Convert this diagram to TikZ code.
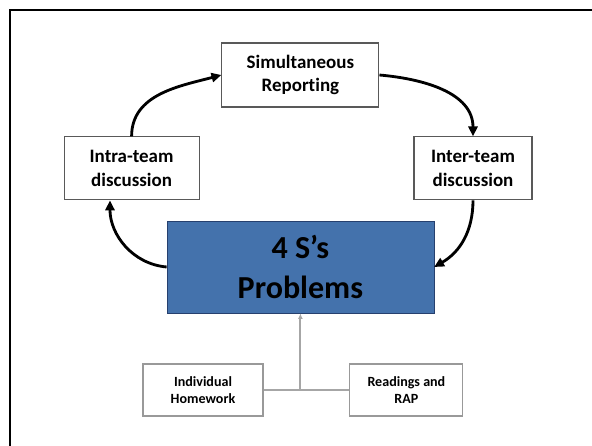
\documentclass[tikz,border=0pt]{standalone}
\usepackage{fontspec}
\setmainfont{Carlito}[Ligatures=NoCommon]
\usetikzlibrary{shapes,arrows,arrows.meta}

\definecolor{probblue}{RGB}{68,114,172}
\definecolor{probedge}{RGB}{38,64,110}

\begin{document}
\begin{tikzpicture}[auto, thick, >={Triangle[length=7pt,width=6.5pt]},
  stage/.style={draw=black!65, fill=white, align=center, inner sep=0pt,
    font=\bfseries\fontsize{13.5}{16.8}\selectfont},
  task/.style={draw=black!40, fill=white, align=center, inner sep=0pt,
    minimum width=2.9cm, minimum height=1.3cm,
    font=\bfseries\fontsize{10}{12.2}\selectfont},
  loop/.style={->, line width=2pt}]

\useasboundingbox (0,0) rectangle (14.8,-11.15);

% outer frame (runs off the page)
\draw [line width=1.8pt] (14.8,-0.25) -| (0.25,-11.15);

\node[stage, minimum width=3.925cm, minimum height=1.6cm] (Sim) at (7.51,-1.875) {Simultaneous\\Reporting};
\node[stage, minimum width=3.375cm, minimum height=1.575cm] (Intra) at (3.29,-4.21) {Intra-team\\discussion};
\node[stage, minimum width=2.95cm, minimum height=1.575cm] (Inter) at (11.825,-4.21) {Inter-team\\discussion};

\node[draw=probedge, fill=probblue, thin, align=center, inner sep=0pt,
  minimum width=6.675cm, minimum height=2.3cm,
  font=\bfseries\fontsize{22.8}{28.4}\selectfont] (Prob) at (7.51,-6.675) {4 S’s\\Problems};

\node[task, minimum width=3.0cm] (Hw) at (5.075,-9.75) {Individual\\Homework};
\node[task, minimum width=2.825cm] (RAP) at (10.16,-9.75) {Readings and\\RAP};
\coordinate (J) at (7.51,-9.75);

% cycle arrows
\draw[loop] (Intra.north) to[out=90, in=195] (Sim.west);
\draw[loop] (Sim.east) to[out=-5, in=90] (Inter.north);
\draw[loop] (Inter.south) to[out=-90, in=30] (Prob.east);
\draw[loop] (Prob.west) to[out=175, in=-90] (Intra.-124);

% inputs to problems
\draw[color=black!35, line width=1.3pt] (Hw) -- (RAP);
\draw[color=black!35, line width=1.3pt, -{Latex[length=4pt,width=3.5pt]}] (J) -- (Prob.south);

\end{tikzpicture}
\end{document}
